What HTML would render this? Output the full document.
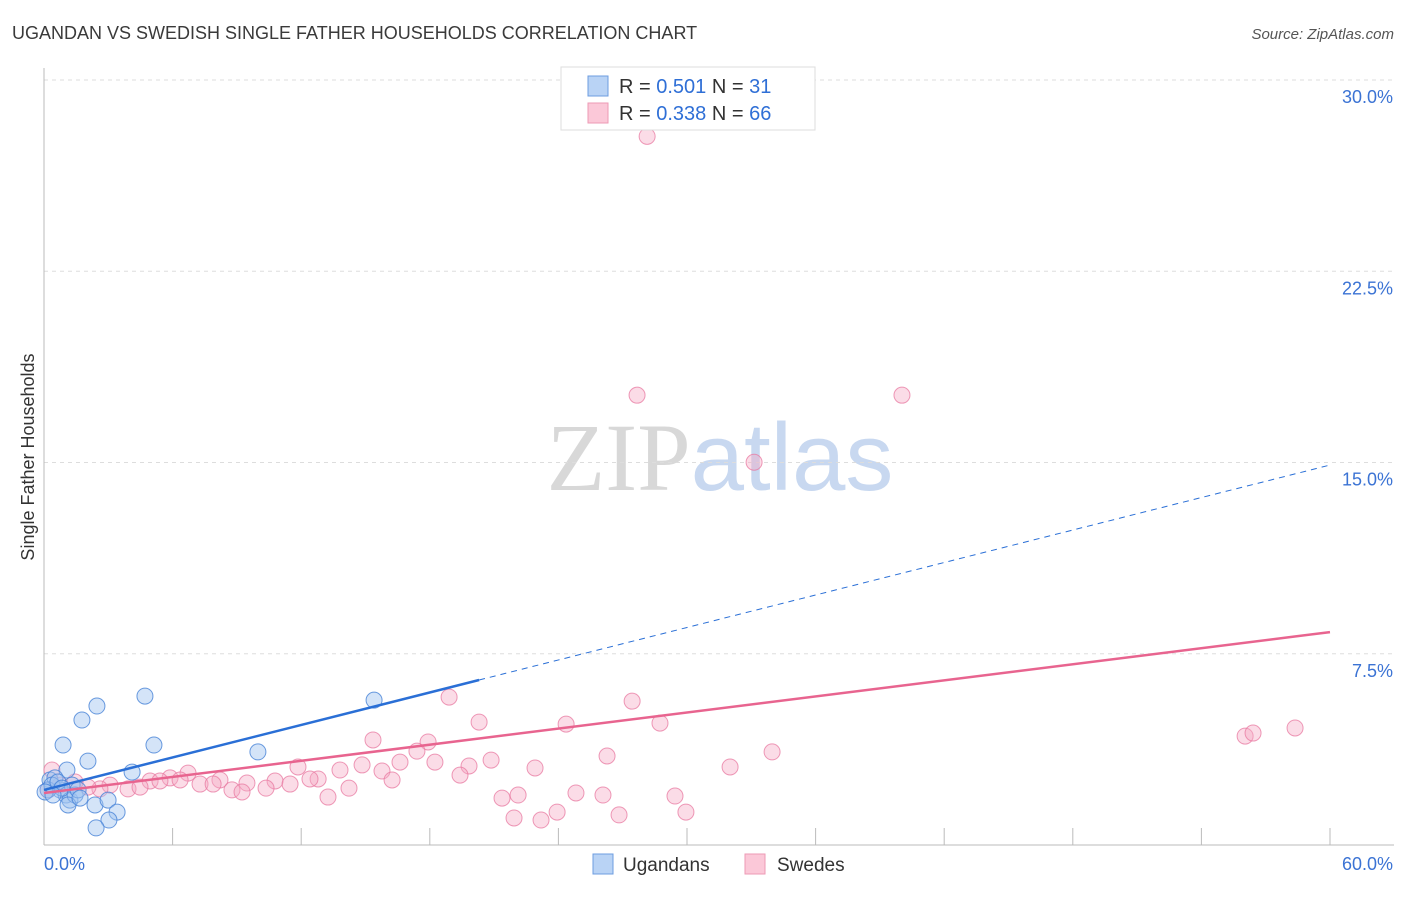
<!DOCTYPE html>
<html><head><meta charset="utf-8"><style>
body{margin:0;background:#fff;font-family:"Liberation Sans",sans-serif;}
svg text{font-family:"Liberation Sans",sans-serif;}
</style></head><body>
<svg id="chart" width="1406" height="892" viewBox="0 0 1406 892" xmlns="http://www.w3.org/2000/svg">
<text x="12" y="39" font-size="18" fill="#3a3a3a">UGANDAN VS SWEDISH SINGLE FATHER HOUSEHOLDS CORRELATION CHART</text>
<text x="1394" y="39" font-size="15" fill="#555" text-anchor="end" font-style="italic">Source: ZipAtlas.com</text>
<text x="720" y="490" font-size="96" text-anchor="middle"><tspan fill="#d8d8d8" font-family="Liberation Serif">ZIP</tspan><tspan fill="#c8d8f0">atlas</tspan></text>
<g id="grid"></g>
<g id="axes"></g>
<g id="marks"></g>
<text transform="translate(34,457) rotate(-90)" font-size="18" fill="#333" text-anchor="middle">Single Father Households</text>
<g>
<rect x="561" y="67" width="254" height="63" fill="#fff" stroke="#ddd"/>
<rect x="588" y="76" width="20" height="20" fill="#b9d3f5" stroke="#6d9de0"/>
<rect x="588" y="103" width="20" height="20" fill="#fbc8d8" stroke="#ee9ab5"/>
<text x="619" y="93" font-size="20" fill="#333">R = <tspan fill="#2f6fd6">0.501</tspan>   N = <tspan fill="#2f6fd6"> 31</tspan></text>
<text x="619" y="120" font-size="20" fill="#333">R = <tspan fill="#2f6fd6">0.338</tspan>   N = <tspan fill="#2f6fd6">66</tspan></text>
</g>
<g>
<rect x="593" y="854" width="20" height="20" fill="#b9d3f5" stroke="#6d9de0"/>
<text x="623" y="871" font-size="19" fill="#333">Ugandans</text>
<rect x="745" y="854" width="20" height="20" fill="#fbc8d8" stroke="#ee9ab5"/>
<text x="777" y="871" font-size="19" fill="#333">Swedes</text>
</g>
</svg>
<script>
const yTicks=[7.5,15,22.5,30];
const yTickLabels=["7.5%","15.0%","22.5%","30.0%"];
const xTicks=[0,6,12,18,24,30,36,42,48,54,60];
const ugX=[0.89,1.77,2.47,4.71,5.13,2.05,1.07,4.11,9.98,15.40,0.28,0.51,0.75,1.03,1.21,2.38,2.99,3.41,3.03,2.43,1.31,0.19,0.37,0.65,0.84,1.45,1.59,0.05,0.42,1.12,1.68];
const ugY=[3.92,4.90,5.45,5.84,3.92,3.29,2.94,2.86,3.65,5.68,2.55,2.63,2.16,1.96,1.76,1.57,1.76,1.29,0.98,0.67,2.35,2.16,2.35,2.47,2.23,1.96,2.16,2.08,1.96,1.57,1.84];
const swX=[28.14,27.67,40.03,33.13,18.90,27.44,20.30,24.36,28.74,56.04,56.41,58.37,15.35,17.92,17.40,26.27,33.97,18.24,20.86,11.85,19.83,22.91,32.01,13.81,14.84,15.77,16.61,19.41,6.72,5.88,4.95,3.92,3.08,8.21,9.47,10.78,11.48,12.79,12.41,10.36,8.77,7.28,7.89,5.41,4.48,2.61,2.05,1.45,0.75,0.37,0.19,16.24,14.23,13.25,21.37,22.12,24.82,26.08,29.44,23.94,26.83,21.93,23.19,29.95,9.24,6.35];
const swY=[27.79,17.64,17.64,15.01,5.80,5.64,4.82,4.74,4.78,4.27,4.39,4.59,4.12,4.04,3.68,3.49,3.65,3.25,3.33,3.06,3.10,3.02,3.06,2.94,3.14,2.90,3.25,2.74,2.82,2.63,2.51,2.20,2.35,2.55,2.43,2.51,2.39,2.59,2.59,2.23,2.16,2.39,2.39,2.51,2.27,2.20,2.27,2.47,2.35,2.94,2.16,2.55,2.23,1.88,1.84,1.96,2.04,1.96,1.92,1.29,1.18,1.06,0.98,1.29,2.08,2.55];
const ugLine=[0,2.16,20.3,6.47,60,14.9];
const swLine=[0,2.04,60,8.35];

const NS="http://www.w3.org/2000/svg";
const X0=44,X1=1330,Y0=845,Y30=80;
const sx=v=>X0+(v/60)*(X1-X0);
const sy=v=>Y0-(v/30)*(Y0-Y30);
function mk(tag,attrs,parent){const e=document.createElementNS(NS,tag);for(const k in attrs)e.setAttribute(k,attrs[k]);parent.appendChild(e);return e;}
const grid=document.getElementById('grid'),axes=document.getElementById('axes'),marks=document.getElementById('marks');
yTicks.forEach((t,i)=>{
 const l=mk('line',{x1:X0,x2:1394,y1:sy(t),y2:sy(t),stroke:'#ddd','stroke-dasharray':'4,4'},grid);
 
 
 const tx=mk('text',{x:1393,y:sy(t)+23,'font-size':18,fill:'#3b73d4','text-anchor':'end'},axes);
 tx.textContent=yTickLabels[i];
 
 
});
const al=mk('line',{x1:X0,x2:X0,y1:68,y2:Y0,stroke:'#bbb'},axes);


const bl=mk('line',{x1:X0,x2:1394,y1:Y0,y2:Y0,stroke:'#bbb'},axes);


xTicks.forEach(t=>{
 const l=mk('line',{x1:sx(t),x2:sx(t),y1:Y0,y2:828,stroke:'#bbb'},axes);
 
 
});
const xl0=mk('text',{x:44,y:870,'font-size':18,fill:'#3b73d4'},axes);xl0.textContent='0.0%';


const xl1=mk('text',{x:1393,y:870,'font-size':18,fill:'#3b73d4','text-anchor':'end'},axes);xl1.textContent='60.0%';



swX.forEach((v,i)=>{
 const c=mk('circle',{cx:sx(v),cy:sy(swY[i]),r:8,fill:'rgba(246,168,194,0.4)',stroke:'rgba(232,120,160,0.75)','stroke-width':1},marks);
 
 
});
ugX.forEach((v,i)=>{
 const c=mk('circle',{cx:sx(v),cy:sy(ugY[i]),r:8,fill:'rgba(160,196,240,0.45)',stroke:'rgba(70,130,215,0.8)','stroke-width':1},marks);
 
 
});
const l1=mk('line',{x1:sx(ugLine[0]),y1:sy(ugLine[1]),x2:sx(ugLine[2]),y2:sy(ugLine[3]),stroke:'#2a6fd6','stroke-width':2.5},marks);


const l2=mk('line',{x1:sx(ugLine[2]),y1:sy(ugLine[3]),x2:sx(ugLine[4]),y2:sy(ugLine[5]),stroke:'#2a6fd6','stroke-width':1,'stroke-dasharray':'6,5'},marks);


const l3=mk('line',{x1:sx(swLine[0]),y1:sy(swLine[1]),x2:sx(swLine[2]),y2:sy(swLine[3]),stroke:'#e8648f','stroke-width':2.5},marks);


</script>
</body></html>
